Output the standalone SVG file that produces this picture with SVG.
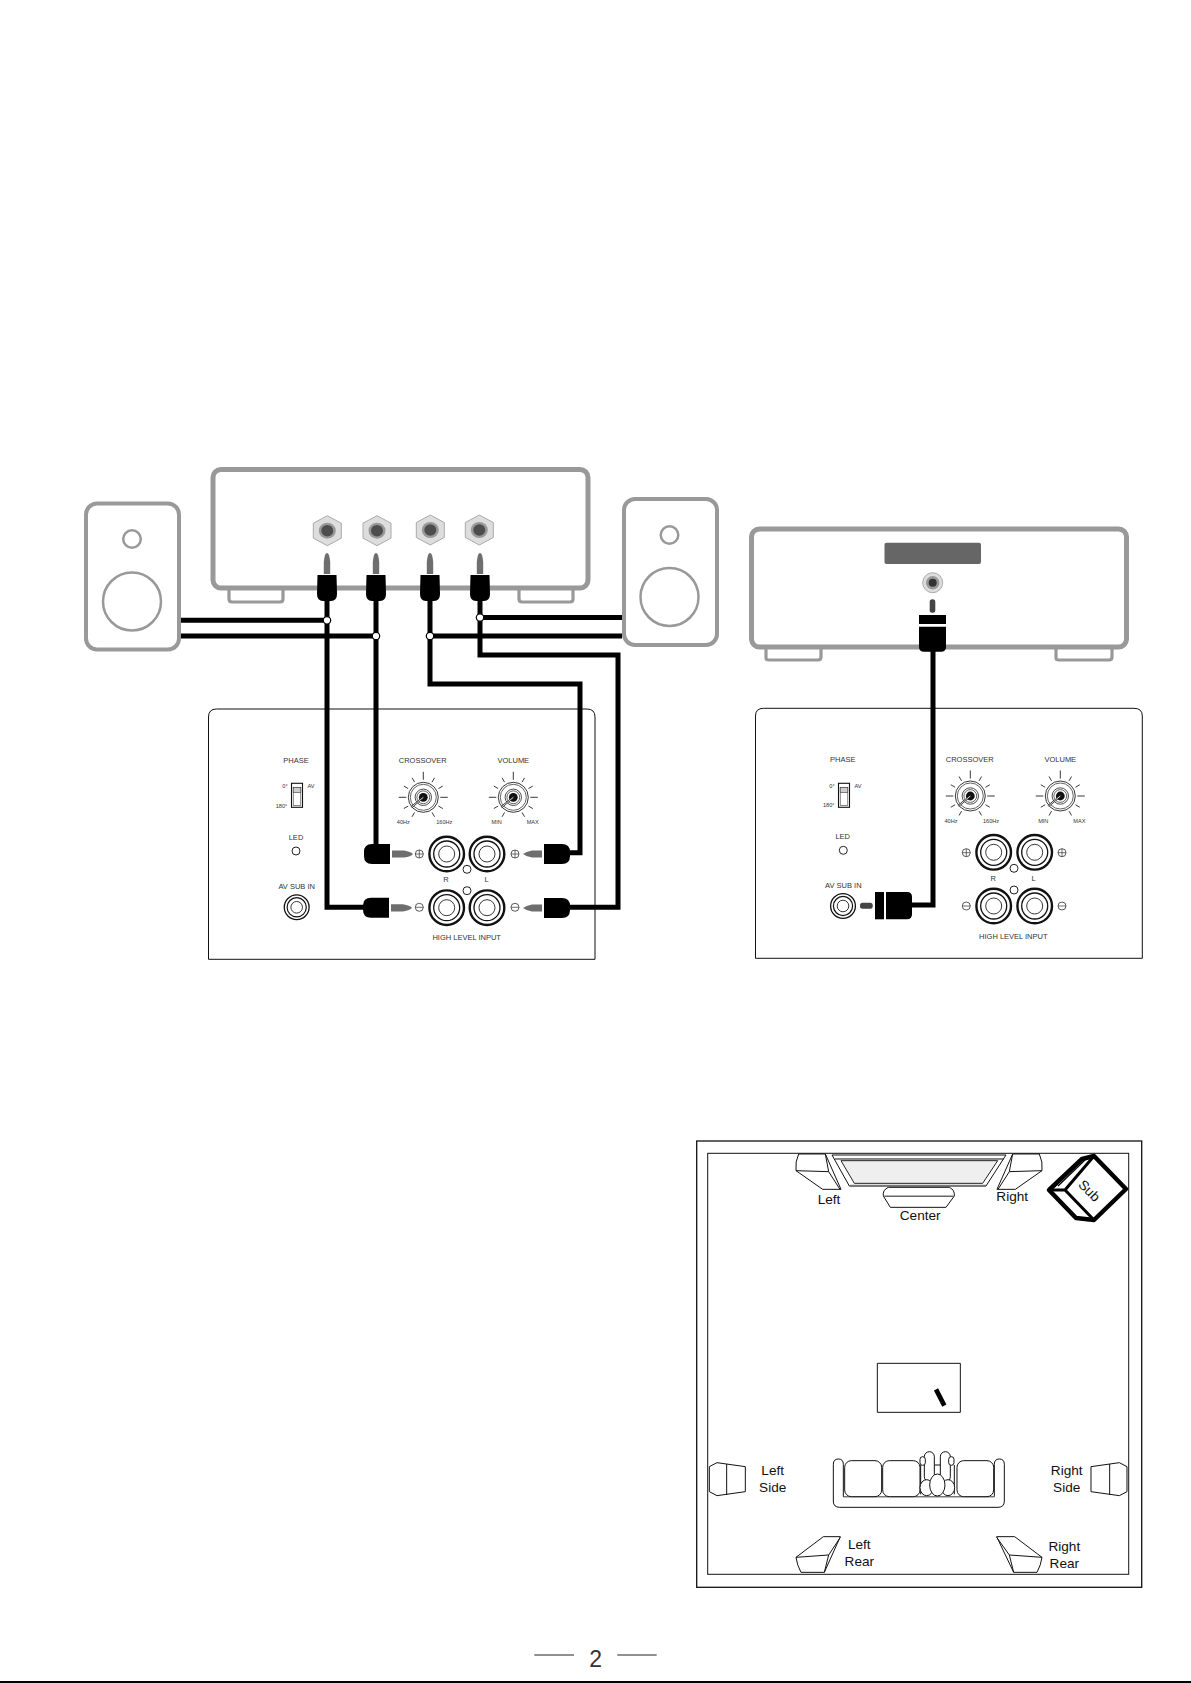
<svg xmlns="http://www.w3.org/2000/svg" xmlns:xlink="http://www.w3.org/1999/xlink" width="1191" height="1683" viewBox="0 0 1191 1683">
<style>
text{font-family:"Liberation Sans",Arial,sans-serif;fill:#333;text-anchor:middle}
.s{font-size:7.5px}.xs{font-size:5.6px}.r{font-size:13.6px;fill:#111}
.g{fill:#fff;stroke:#999;stroke-width:5}
.gt{fill:#fff;stroke:#999;stroke-width:3.2}
.w{fill:none;stroke:#000;stroke-width:5;stroke-linejoin:miter}
.j{fill:#fff;stroke:#000;stroke-width:1.2}
.p{fill:#fff;stroke:#222;stroke-width:1}
.l{fill:none;stroke:#111;stroke-width:1}
.room{fill:#fff;stroke:#111;stroke-width:3;stroke-linejoin:round}
.roomn{fill:none;stroke:#111;stroke-width:3}
</style>
<defs>
<g id="hex"><path d="M0-15 14-7.500V7.500L0 15-14 7.500V-7.500Z" fill="#ddd" stroke="#aaa" stroke-width="1"/><ellipse rx="8.500" ry="8" fill="#999"/><ellipse rx="6" ry="5.800" fill="#4d4d4d"/></g>
<g id="vplug"><path d="M-3.200 -1V-13Q-2.400-22 0-22Q2.400-22 3.200-13V-1Z" fill="#6e6e6e"/><path d="M-9.500 0H9.500L10 19Q10 26 4 26H-4Q-10 26-10 19Z" fill="#000"/></g>
<g id="tick"><line x1="0" y1="-17.500" x2="0" y2="-22.500" stroke="#222" stroke-width=".8"/></g>
<g id="knob">
<circle r="15" fill="#fff" stroke="#222" stroke-width=".9"/><circle r="13" fill="none" stroke="#222" stroke-width=".7"/>
<circle r="8.200" fill="none" stroke="#222" stroke-width=".8"/><circle r="6.400" fill="none" stroke="#222" stroke-width=".7"/><circle r="4.400" fill="#111"/>
<line x2="-12" y2="10" stroke="#222" stroke-width="2"/><line x2="-12" y2="10" stroke="#fff" stroke-width=".8"/>
<line y1="-17.500" y2="-25.500" stroke="#222" stroke-width=".9"/><line x1="-17" x2="-24.500" stroke="#222" stroke-width=".9"/><line x1="17" x2="24.500" stroke="#222" stroke-width=".9"/>
<use xlink:href="#tick" href="#tick" transform="rotate(30)"/><use xlink:href="#tick" href="#tick" transform="rotate(60)"/><use xlink:href="#tick" href="#tick" transform="rotate(120)"/><use xlink:href="#tick" href="#tick" transform="rotate(150)"/>
<use xlink:href="#tick" href="#tick" transform="rotate(-30)"/><use xlink:href="#tick" href="#tick" transform="rotate(-60)"/><use xlink:href="#tick" href="#tick" transform="rotate(-120)"/><use xlink:href="#tick" href="#tick" transform="rotate(-150)"/>
</g>
<g id="post"><circle r="17.300" fill="#fff" stroke="#111" stroke-width="2.400"/><circle r="13" fill="none" stroke="#111" stroke-width="1.300"/><circle r="8" fill="none" stroke="#222" stroke-width=".9"/></g>
<g id="jack"><circle r="12.400" fill="#fff" stroke="#111" stroke-width="1.300"/><circle r="9.600" fill="none" stroke="#111" stroke-width="1.200"/><circle r="5.800" fill="none" stroke="#222" stroke-width=".9"/></g>
<g id="plus"><circle r="4" fill="#fff" stroke="#333" stroke-width=".8"/><path d="M-4 0H4M0-4V4" stroke="#333" stroke-width=".7"/></g>
<g id="minus"><circle r="4" fill="#fff" stroke="#333" stroke-width=".8"/><path d="M-4 0H4" stroke="#333" stroke-width=".7"/></g>
<g id="switch"><rect x="-5.500" y="-12" width="11" height="24" fill="#fff" stroke="#111" stroke-width="1.100"/><rect x="-3.800" y="-8" width="7.600" height="18" fill="#fff" stroke="#333" stroke-width=".6"/><rect x="-3.800" y="-8" width="7.600" height="5" fill="#ccc" stroke="#333" stroke-width=".6"/></g>
<g id="hplugL"><path d="M26-10H8Q0-10 0-2V2Q0 10 8 10H26Z" fill="#000"/><path d="M28-3.600H40Q47-2.500 49 0Q47 2.500 40 3.600H28Z" fill="#6e6e6e"/></g>
<g id="hplugR"><path d="M0-10H18Q26-10 26-2V2Q26 10 18 10H0Z" fill="#000"/><path d="M-2-3.600H-12Q-18-2.500-21 0Q-18 2.500-12 3.600H-2Z" fill="#6e6e6e"/></g>
</defs>

<g id="amp">
<path class="gt" d="M229 590V599Q229 602 232 602H280Q283 602 283 599V590"/>
<path class="gt" d="M519 590V599Q519 602 522 602H570Q573 602 573 599V590"/>
<rect class="g" x="213" y="469.500" width="375" height="118.500" rx="8"/>
<use xlink:href="#hex" href="#hex" x="327.300" y="530.700"/>
<use xlink:href="#hex" href="#hex" x="377" y="530.700"/>
<use xlink:href="#hex" href="#hex" x="430.300" y="530"/>
<use xlink:href="#hex" href="#hex" x="479.300" y="530"/>
</g>
<g id="speaker-left">
<rect x="86" y="503.500" width="93" height="146" rx="11" fill="#fff" stroke="#999" stroke-width="4"/>
<circle cx="132" cy="539" r="8.800" fill="#fff" stroke="#999" stroke-width="2.500"/>
<ellipse cx="132" cy="601.500" rx="29" ry="29" fill="#fff" stroke="#999" stroke-width="2.500"/>
</g>
<g id="speaker-right">
<rect x="624" y="499" width="93" height="146" rx="11" fill="#fff" stroke="#999" stroke-width="4"/>
<circle cx="669.500" cy="535" r="8.800" fill="#fff" stroke="#999" stroke-width="2.500"/>
<ellipse cx="669.500" cy="597" rx="29" ry="29" fill="#fff" stroke="#999" stroke-width="2.500"/>
</g>
<g id="source">
<path class="gt" d="M766 649V658Q766 660 769 660H818Q821 660 821 657V649"/>
<path class="gt" d="M1056 649V658Q1056 660 1059 660H1109Q1112 660 1112 657V649"/>
<rect class="g" x="751.500" y="529" width="375" height="118" rx="8"/>
<rect x="884.500" y="542.700" width="96.500" height="21.300" rx="2" fill="#666"/>
<circle cx="932.700" cy="582.700" r="10" fill="#ddd" stroke="#aaa"/><circle cx="932.700" cy="582.700" r="6.800" fill="#999"/><circle cx="932.700" cy="582.700" r="4" fill="#333"/>
</g>

<g id="panel-left" transform="translate(1 0)">
<path class="l" d="M207.500 959.300V717Q207.500 709 215.500 709H586Q594 709 594 717V959.300Z"/>
<text class="s" x="295" y="763">PHASE</text><text class="s" x="421.700" y="763">CROSSOVER</text><text class="s" x="512.300" y="763">VOLUME</text>
<use xlink:href="#switch" href="#switch" x="296" y="795.300"/>
<text class="xs" x="284" y="788">0°</text><text class="xs" x="310" y="788">AV</text><text class="xs" x="280.500" y="808">180°</text>
<use xlink:href="#knob" href="#knob" x="422.300" y="797.300"/><use xlink:href="#knob" href="#knob" x="512.300" y="797.300"/>
<text class="xs" x="402.300" y="824">40Hz</text><text class="xs" x="443.300" y="824">160Hz</text><text class="xs" x="495.700" y="824">MIN</text><text class="xs" x="531.700" y="824">MAX</text>
<text class="s" x="295" y="840">LED</text><circle class="p" cx="295" cy="851" r="4"/>
<text class="s" x="295.700" y="889">AV SUB IN</text><use xlink:href="#jack" href="#jack" x="295.700" y="907.300"/>
<use xlink:href="#post" href="#post" x="445.700" y="854"/><use xlink:href="#post" href="#post" x="486" y="854"/>
<use xlink:href="#post" href="#post" x="445.700" y="907.700"/><use xlink:href="#post" href="#post" x="486" y="907.700"/>
<circle class="p" cx="466" cy="869.300" r="4"/><circle class="p" cx="466" cy="890.700" r="4"/>
<use xlink:href="#plus" href="#plus" x="418.300" y="854"/><use xlink:href="#plus" href="#plus" x="514" y="854"/>
<use xlink:href="#minus" href="#minus" x="418.300" y="907.300"/><use xlink:href="#minus" href="#minus" x="514" y="907.300"/>
<text class="s" x="445" y="881.700">R</text><text class="s" x="485.700" y="881.700">L</text>
<text class="s" x="465.700" y="940">HIGH LEVEL INPUT</text>
</g>
<g id="panel-right" transform="translate(1 0)">
<path class="l" d="M754.500 958.300V716Q754.500 708.300 762.500 708.300H1133Q1141.300 708.300 1141.300 716V958.300Z"/>
<text class="s" x="841.700" y="762.300">PHASE</text><text class="s" x="968.700" y="762.300">CROSSOVER</text><text class="s" x="1059.300" y="762.300">VOLUME</text>
<use xlink:href="#switch" href="#switch" x="843" y="795.300"/>
<text class="xs" x="831" y="788">0°</text><text class="xs" x="857" y="788">AV</text><text class="xs" x="827.700" y="807">180°</text>
<use xlink:href="#knob" href="#knob" x="969.300" y="796"/><use xlink:href="#knob" href="#knob" x="1059.300" y="796"/>
<text class="xs" x="950" y="823">40Hz</text><text class="xs" x="990" y="823">160Hz</text><text class="xs" x="1042.300" y="823">MIN</text><text class="xs" x="1078.300" y="823">MAX</text>
<text class="s" x="841.700" y="839.300">LED</text><circle class="p" cx="842.300" cy="850.300" r="4"/>
<text class="s" x="842.300" y="888.300">AV SUB IN</text><use xlink:href="#jack" href="#jack" x="842" y="906"/>
<use xlink:href="#post" href="#post" x="992.700" y="852.300"/><use xlink:href="#post" href="#post" x="1033.700" y="852.300"/>
<use xlink:href="#post" href="#post" x="992.700" y="906"/><use xlink:href="#post" href="#post" x="1033.700" y="906"/>
<circle class="p" cx="1013" cy="868.300" r="4"/><circle class="p" cx="1013" cy="890" r="4"/>
<use xlink:href="#plus" href="#plus" x="965.300" y="852.700"/><use xlink:href="#plus" href="#plus" x="1061" y="852.700"/>
<use xlink:href="#minus" href="#minus" x="965.300" y="906"/><use xlink:href="#minus" href="#minus" x="1061" y="906"/>
<text class="s" x="992.300" y="881.300">R</text><text class="s" x="1032.700" y="881.300">L</text>
<text class="s" x="1012.300" y="939.300">HIGH LEVEL INPUT</text>
</g>

<g id="connectors">
<path class="w" d="M181 620.300H327M181 636H376M622 617.500H480M622 636H430"/>
<path class="w" d="M327 600V907.300H365"/>
<path class="w" d="M376 600V846"/>
<path class="w" d="M430 600V684H580V852.700H570"/>
<path class="w" d="M480 600V655H618V907.300H569"/>
<path class="w" d="M933 650V905H910"/>
<circle class="j" cx="327" cy="620.300" r="3.700"/><circle class="j" cx="376" cy="636" r="3.700"/><circle class="j" cx="430" cy="636" r="3.700"/><circle class="j" cx="480" cy="617.500" r="3.700"/>
</g>
<g id="plugs">
<use xlink:href="#vplug" href="#vplug" x="327" y="575"/><use xlink:href="#vplug" href="#vplug" x="376" y="575"/><use xlink:href="#vplug" href="#vplug" x="430" y="575"/><use xlink:href="#vplug" href="#vplug" x="480" y="575"/>
<use xlink:href="#hplugL" href="#hplugL" x="364" y="854"/><use xlink:href="#hplugL" href="#hplugL" x="363" y="907.800"/>
<use xlink:href="#hplugR" href="#hplugR" x="544" y="854"/><use xlink:href="#hplugR" href="#hplugR" x="544" y="908"/>
<g id="rca-top"><rect x="929.700" y="599.300" width="5.600" height="13.400" rx="2.500" fill="#444"/><rect x="919" y="615" width="27" height="9" fill="#000"/><path d="M919 626.700H946V647Q946 651.700 941 651.700H924Q919 651.700 919 647Z" fill="#000"/></g>
<g id="rca-side"><rect x="860" y="902.700" width="12.700" height="6" rx="2.500" fill="#444"/><rect x="875" y="892" width="9" height="27.300" fill="#000"/><path d="M886 892H907Q912 892 912 897V914.300Q912 919.300 907 919.300H886Z" fill="#000"/></g>
</g>

<g id="room-layout" transform="translate(1 0)">
<g id="room">
<rect x="695.700" y="1141" width="445" height="446.300" fill="none" stroke="#111" stroke-width="1.300"/>
<rect x="706.700" y="1153.300" width="421" height="421" fill="none" stroke="#111" stroke-width="1"/>
</g>
<g id="tv" transform="translate(690 1130) scale(.33333)">
<path class="room" d="M423 75H945L885 168H475Z"/><path class="roomn" d="M432 87H938"/>
<path d="M450 92H920L875 160H490Z" fill="#efefef" stroke="#222" stroke-width="3"/>
<path d="M477 167H885" stroke="#777" stroke-width="6" fill="none"/>
</g>
<g id="spk-left" transform="translate(690 1130) scale(.33333)">
<path class="room" d="M323 72H403L450 178H395L315 122Q312 95 323 72Z"/><path class="roomn" d="M315 122 413 125 447 178M403 72 413 125"/>
</g>
<g id="spk-right" transform="translate(690 1130) scale(.33333)">
<path class="room" d="M1045 72H965L918 178H973L1053 122Q1056 95 1045 72Z"/><path class="roomn" d="M1053 122 955 125 921 178M965 72 955 125"/>
</g>
<g id="spk-center" transform="translate(690 1130) scale(.33333)">
<path class="room" d="M592 172H775Q792 180 790 198L765 232H598L577 198Q574 180 592 172Z"/><path d="M580 199H788" stroke="#666" stroke-width="4.500" fill="none"/>
</g>
<g id="subwoofer">
<path d="M1048 1190 1081 1159 1093 1156 1125 1189 1093 1220 1075 1218Z" fill="#fff" stroke="#000" stroke-width="4.500" stroke-linejoin="round"/>
<path d="M1048 1190H1064L1093 1220M1064 1190 1093 1156" fill="none" stroke="#000" stroke-width="3"/>
<path d="M1057 1186 1084 1160" fill="none" stroke="#000" stroke-width="1.200"/>
<text class="r" transform="translate(1085 1194) rotate(45)" x="0" y="0">Sub</text>
</g>
<g id="screen" transform="translate(690 1340) scale(.33333)">
<rect class="room" x="559" y="70" width="249" height="147"/><path d="M735 148 760 197" stroke="#000" stroke-width="14" fill="none"/>
</g>
<g id="spk-left-side" transform="translate(690 1340) scale(.33333)">
<path class="room" d="M55 380 78 368 163 380V455L78 467 55 455Z"/><path class="roomn" d="M107 372V465"/>
</g>
<g id="spk-right-side" transform="translate(690 1340) scale(.33333)">
<path class="room" d="M1308 380 1285 368 1200 380V455L1285 467 1308 455Z"/><path class="roomn" d="M1256 372V465"/>
</g>
<g id="spk-left-rear" transform="translate(690 1340) scale(.33333)">
<path class="room" d="M397 590H448L400 697H330Q318 675 315 652Z"/><path class="roomn" d="M315 652 413 645 448 592M413 645 400 697"/>
</g>
<g id="spk-right-rear" transform="translate(690 1340) scale(.33333)">
<path class="room" d="M971 590H917L968 697H1038Q1050 675 1053 652Z"/><path class="roomn" d="M1053 652 955 645 917 592M955 645 968 697"/>
</g>
<g id="sofa" transform="translate(825 1445) scale(.33333)">
<path class="room" d="M52 58Q52 42 37 42Q22 42 22 58V168Q22 187 41 187H516Q535 187 535 168V58Q535 42 520 42Q505 42 505 58V155H52Z"/>
<path d="M54 155H505" stroke="#777" stroke-width="4" fill="none"/>
<rect class="room" x="56" y="47" width="111" height="108" rx="20"/><rect class="room" x="170" y="47" width="112" height="108" rx="20"/><rect class="room" x="393" y="47" width="110" height="108" rx="20"/>
<path class="roomn" d="M284 60V148M385 60V148M325 60H345"/>
<rect class="room" x="295" y="20" width="30" height="90" rx="15"/><rect class="room" x="343" y="20" width="30" height="90" rx="15"/>
<rect class="room" x="282" y="35" width="16" height="26" rx="8"/><rect class="room" x="368" y="35" width="16" height="26" rx="8"/>
<ellipse class="room" cx="302" cy="128" rx="20" ry="24"/><ellipse class="room" cx="366" cy="128" rx="20" ry="24"/>
<ellipse class="room" cx="334" cy="120" rx="23" ry="33"/>
</g>
<g id="room-labels">
<text class="r" x="828" y="1204">Left</text><text class="r" x="919.200" y="1220">Center</text><text class="r" x="1011.200" y="1200.700">Right</text>
<text class="r" x="771.700" y="1475">Left</text><text class="r" x="771.700" y="1491.700">Side</text>
<text class="r" x="1065.700" y="1475">Right</text><text class="r" x="1065.700" y="1491.700">Side</text>
<text class="r" x="858.300" y="1549.300">Left</text><text class="r" x="858.300" y="1566">Rear</text>
<text class="r" x="1063.300" y="1550.700">Right</text><text class="r" x="1063.300" y="1568">Rear</text>
</g>
</g>
<g id="page">
<path d="M534.300 1655H574M617.300 1655H656.700" stroke="#222" stroke-width="1" fill="none"/>
<text x="595.700" y="1666.700" style="font-size:23px">2</text>
<rect x="0" y="1681" width="1191" height="2" fill="#000"/>
</g>
</svg>
